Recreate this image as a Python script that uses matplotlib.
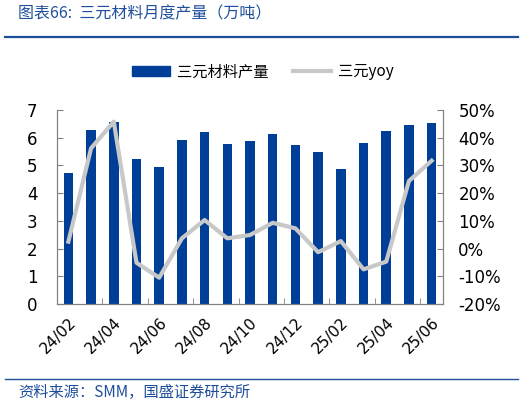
import numpy as np
import matplotlib
matplotlib.use('Agg')
import matplotlib.pyplot as plt
from matplotlib.lines import Line2D
from matplotlib.patches import Patch

plt.rcParams['font.family'] = ['DejaVu Sans', 'Noto Sans CJK SC']

months = ['24/02', '24/03', '24/04', '24/05', '24/06', '24/07', '24/08', '24/09',
          '24/10', '24/11', '24/12', '25/01', '25/02', '25/03', '25/04', '25/05', '25/06']
output = [4.74, 6.28, 6.56, 5.22, 4.96, 5.91, 6.21, 5.76, 5.89,
          6.13, 5.74, 5.49, 4.86, 5.81, 6.24, 6.46, 6.52]
yoy = [2.5, 36.2, 45.8, -5.1, -10.5, 3.7, 10.3, 3.7, 4.9,
       9.3, 7.3, -1.3, 2.7, -7.5, -4.7, 24.4, 31.7]

blue = '#003f98'
grey = '#c8c8c8'
title_blue = '#1f4e9a'
cjk = ['Noto Sans CJK SC', 'DejaVu Sans']

fig = plt.figure(figsize=(5.26, 4.04), dpi=100)
ax = fig.add_axes([0.1084, 0.2475, 0.7338, 0.4802])
ax2 = ax.twinx()

x = np.arange(len(months))
ax.bar(x, output, width=0.42, color=blue, zorder=2)
ax2.plot(x, yoy, color=grey, lw=3, zorder=3)

ax.set_xlim(-0.5, len(months) - 0.5)
ax.set_ylim(0, 7)
ax.set_yticks(range(0, 8))
ax2.set_ylim(-20, 50)
ax2.set_yticks(range(-20, 51, 10))
ax2.set_yticklabels([f'{v}%' for v in range(-20, 51, 10)])

# labels every other month, small ticks between pairs of bars
ax.set_xticks(x[::2])
ax.set_xticklabels(months[::2], rotation=45, ha='right', va='top', rotation_mode='anchor')
ax.set_xticks(np.arange(1.5, len(months) - 1, 2), minor=True)
ax.tick_params(axis='x', which='major', length=0, pad=8, labelsize=11)
ax.tick_params(axis='x', which='minor', direction='in', length=4, color='#808080')
ax.tick_params(axis='y', direction='in', length=4, pad=14, labelsize=12, color='#808080')
ax2.tick_params(axis='y', direction='in', length=4, pad=11, labelsize=12, color='#808080')

for a in (ax, ax2):
    a.spines['top'].set_visible(False)
    for s in ['left', 'right', 'bottom']:
        a.spines[s].set_color('#808080')

handles = [Patch(color=blue), Line2D([0], [0], color=grey, lw=3)]
fig.legend(handles, ['三元材料产量', '三元yoy'], loc='center', bbox_to_anchor=(0.5, 1 - 72 / 404),
           ncol=2, frameon=False, prop={'family': cjk, 'size': 11},
           handlelength=2.5, handleheight=0.55, columnspacing=1.6, handletextpad=0.45)

fig.text(18 / 526, 1 - 14 / 404, '图表66:  三元材料月度产量（万吨）', family=cjk, style='italic',
         fontsize=11.5, color=title_blue, va='center', ha='left')
fig.add_artist(Line2D([5 / 526, 518 / 526], [1 - 37 / 404] * 2, color=title_blue, lw=1.6))
fig.add_artist(Line2D([5 / 526, 518 / 526], [1 - 379 / 404] * 2, color=title_blue, lw=1))
fig.text(18 / 526, 1 - 392 / 404, '资料来源：SMM，国盛证券研究所', family=cjk, style='italic',
         fontsize=11, color=title_blue, va='center', ha='left')

fig.savefig('out.png', dpi=100)
